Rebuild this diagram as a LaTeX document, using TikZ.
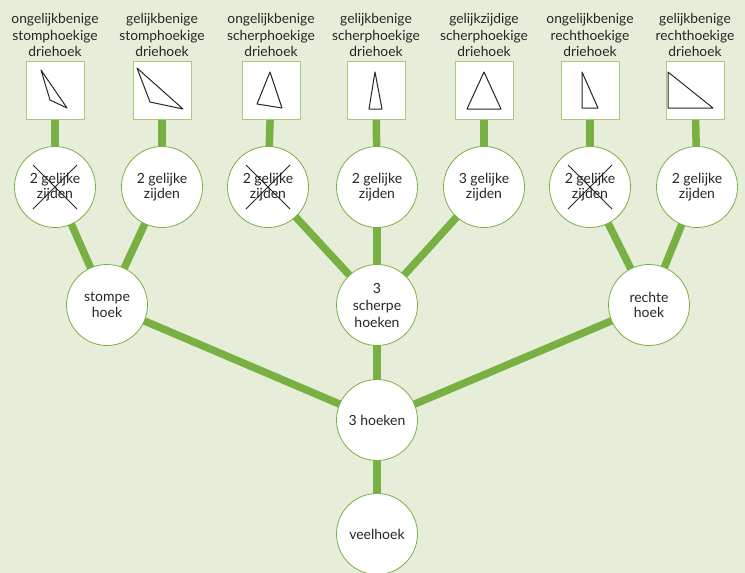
\documentclass[tikz,border=0pt]{standalone}
\usepackage{fontspec}
\setmainfont{Lato}
\definecolor{bg}{HTML}{E6EDD8}
\definecolor{lg}{HTML}{79B043}
\definecolor{bx}{HTML}{A8C97E}
\pgfdeclarelayer{paper}
\pgfdeclarelayer{edges}
\pgfsetlayers{paper,edges,main}
\begin{document}
\begin{tikzpicture}[x=1pt,y=-1pt,
  every node/.style={text=black!85},
  circ/.style={circle, draw=lg, line width=0.8pt, fill=white, minimum size=81pt, inner sep=0pt, align=center, font=\fontsize{14}{15.5}\selectfont},
  sq/.style={rectangle, draw=bx, line width=1pt, fill=white, minimum width=58pt, minimum height=58pt, inner sep=0pt},
  ttl/.style={align=center, anchor=south, inner sep=0pt, font=\fontsize{13.8}{16.5}\selectfont},
  con/.style={draw=lg, line width=7.5pt},
  tri/.style={draw=black!85, line width=1pt, line join=round},
  xx/.style={draw=black!85, line width=0.8pt}]
\begin{pgfonlayer}{paper}
\fill[bg] (0,0) rectangle (745,573);
\end{pgfonlayer}
\useasboundingbox (0,0) rectangle (745,573);
% boxes
\foreach \i/\x in {1/55,2/162,3/271,4/376,5/484,6/590,7/695}{
  \node[sq] (b\i) at (\x,90) {};
}
% titles
\node[ttl] (t1) at (55,57) {ongelijkbenige\\stomphoekige\\driehoek};
\node[ttl] (t2) at (162,57) {gelijkbenige\\stomphoekige\\driehoek};
\node[ttl] (t3) at (271,57) {ongelijkbenige\\scherphoekige\\driehoek};
\node[ttl] (t4) at (376,57) {gelijkbenige\\scherphoekige\\driehoek};
\node[ttl] (t5) at (484,57) {gelijkzijdige\\scherphoekige\\driehoek};
\node[ttl] (t6) at (590,57) {ongelijkbenige\\rechthoekige\\driehoek};
\node[ttl] (t7) at (695,57) {gelijkbenige\\rechthoekige\\driehoek};
% triangles
\draw[tri] (41,70) -- (50,100) -- (67,108) -- cycle;
\draw[tri] (137,68) -- (150,102) -- (183,109) -- cycle;
\draw[tri] (270,72) -- (257,104) -- (282,108) -- cycle;
\draw[tri] (375,72) -- (369,109) -- (382,109) -- cycle;
\draw[tri] (484,72) -- (467,109) -- (501,109) -- cycle;
\draw[tri] (582,72) -- (582,108) -- (598,108) -- cycle;
\draw[tri] (668,72) -- (668,108) -- (713,108) -- cycle;
% circles row 2
\node[circ] (c1) at (55,187) {2 gelijke\\zijden};
\node[circ] (c2) at (162,187) {2 gelijke\\zijden};
\node[circ] (c3) at (268,187) {2 gelijke\\zijden};
\node[circ] (c4) at (377,187) {2 gelijke\\zijden};
\node[circ] (c5) at (484,187) {3 gelijke\\zijden};
\node[circ] (c6) at (590,187) {2 gelijke\\zijden};
\node[circ] (c7) at (697,187) {2 gelijke\\zijden};
% crosses
\foreach \c in {c1,c3,c6}{
  \draw[xx] ([shift={(-22,-22)}]\c.center) -- ([shift={(22,22)}]\c.center);
  \draw[xx] ([shift={(22,-22)}]\c.center) -- ([shift={(-22,22)}]\c.center);
}
% row 3
\node[circ] (s) at (107,305) {stompe\\hoek};
\node[circ, font=\fontsize{14}{17}\selectfont] (m) at (377,305) {3\\scherpe\\hoeken};
\node[circ] (r) at (649,305) {rechte\\hoek};
\node[circ] (h) at (377,420) {3 hoeken};
\node[circ] (v) at (377,534) {veelhoek};
% connectors
\begin{pgfonlayer}{edges}
\foreach \i/\j in {b1/c1,b2/c2,b3/c3,b4/c4,b5/c5,b6/c6,b7/c7,
  c1/s,c2/s,c3/m,c4/m,c5/m,c6/r,c7/r,s/h,m/h,r/h,h/v}{
  \draw[con] (\i.center) -- (\j.center);
}
\end{pgfonlayer}
\end{tikzpicture}
\end{document}
